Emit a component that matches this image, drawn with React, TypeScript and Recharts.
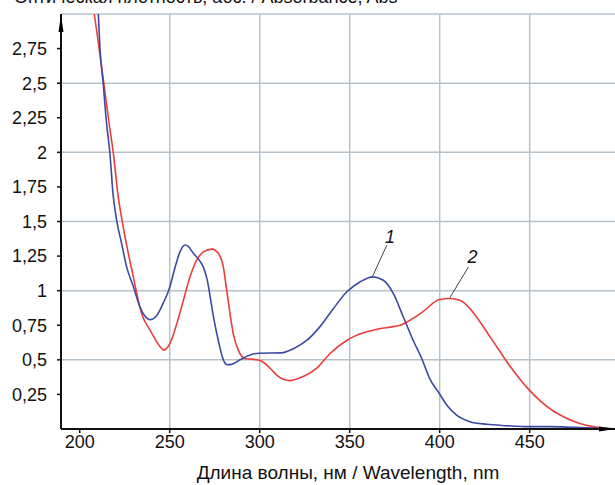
import React from 'react';
import {
  LineChart,
  Line,
  XAxis,
  YAxis,
  CartesianGrid,
  ReferenceLine,
  ReferenceDot,
} from 'recharts';

// curve 1 (blue)
const blueWl = [
  209.5, 210.3, 211.3, 213.1, 214.6, 216.8, 218.5, 220.5, 223.3, 226.1, 229.8,
  233.5, 236.3, 239.1, 242.8, 246.4, 249.8, 253, 255.7, 258.5, 260.3, 263.1,
  265.9, 268.7, 270.9, 272.8, 274.6, 277, 279.8, 282, 284.4, 289, 294.6, 300,
  312, 318.7, 326.1, 333.5, 340.9, 348.3, 355.7, 362.8, 368.7, 374.2, 379.8,
  385.3, 390, 394.6, 399.8, 403.9, 409.4, 416.8, 426.1, 437.2, 449.2, 461.3,
  474.3, 489, 497.4,
];
const blueAbs = [
  3.1, 3.0, 2.74, 2.49, 2.25, 1.99, 1.7, 1.51, 1.34, 1.17, 1.03,
  0.88, 0.815, 0.79, 0.82, 0.91, 1.015, 1.17, 1.28, 1.33, 1.32, 1.27,
  1.23, 1.17, 1.075, 0.93, 0.79, 0.64, 0.5, 0.465, 0.467, 0.5, 0.535, 0.548,
  0.55, 0.58, 0.64, 0.74, 0.87, 0.99, 1.063, 1.1, 1.075, 0.98, 0.81,
  0.64, 0.51, 0.36, 0.257, 0.173, 0.1, 0.053, 0.034, 0.024, 0.017, 0.017,
  0.012, 0.005, 0,
];

// curve 2 (red)
const redWl = [
  207, 208.1, 210.9, 213.5, 215.9, 218.7, 221.4, 224.2, 227, 229.8, 231.7,
  234.4, 239.1, 242.8, 246.8, 250.2, 253.9, 257.6, 261.3, 265, 268.7, 273.3,
  277, 279.8, 281.7, 283.5, 285.3, 288.1, 291.8, 298.3, 301.1, 305.7, 310.3,
  316.8, 324.2, 331.7, 339.1, 348.3, 357.6, 365, 374.2, 378, 383.5, 390.9,
  399.8, 405.7, 411.3, 416.8, 422.4, 428, 433.5, 439, 444.6, 449.2, 455.7,
  463.1, 470.5, 477.9, 485.3, 492.7, 497.4,
];
const redAbs = [
  3.1, 3.0, 2.74, 2.49, 2.25, 1.99, 1.68, 1.46, 1.27, 1.1, 0.98,
  0.835, 0.714, 0.63, 0.57, 0.62, 0.76, 0.93, 1.1, 1.22, 1.28, 1.3,
  1.27, 1.17, 1.0, 0.835, 0.69, 0.57, 0.51, 0.5, 0.49, 0.44, 0.38,
  0.35, 0.38, 0.44, 0.546, 0.64, 0.695, 0.72, 0.74, 0.75, 0.786, 0.85,
  0.936, 0.943, 0.93, 0.87, 0.774, 0.666, 0.56, 0.455, 0.36, 0.29, 0.205,
  0.13, 0.078, 0.04, 0.017, 0.005, 0,
];

const xTicks = [200, 250, 300, 350, 400, 450];
const yTicks = [0.25, 0.5, 0.75, 1, 1.25, 1.5, 1.75, 2, 2.25, 2.5, 2.75];
const xGrid = [250, 300, 350, 400, 450];
const yGrid = [0.5, 1, 1.5, 2, 2.5, 3];

const X_MIN = 189.6;
const X_MAX = 497.4;

const FONT = "'Liberation Sans', Arial, sans-serif";
const BLUE = '#3c4aa2';
const RED = '#ec3d3d';

const blueData = blueWl.map((x, i) => ({ x, y: blueAbs[i] }));
const redData = redWl.map((x, i) => ({ x, y: redAbs[i] }));

const fmt = (v: number) => String(v).replace('.', ',');

const CurveLabel = ({ cx, cy, text }: any) => (
  <text
    x={cx}
    y={cy}
    textAnchor="middle"
    dominantBaseline="central"
    fontFamily={FONT}
    fontSize={18}
    fontStyle="italic"
    fill="#111"
  >
    {text}
  </text>
);

export default function App() {
  return (
    <div
      style={{
        position: 'absolute',
        top: 0,
        left: 0,
        width: 615,
        height: 485,
        overflow: 'hidden',
        background: '#fff',
        fontFamily: FONT,
      }}
    >
      <div
        style={{
          position: 'absolute',
          top: -12,
          left: 14,
          fontSize: 18,
          lineHeight: '18px',
          color: '#111',
          whiteSpace: 'nowrap',
        }}
      >
        Оптическая плотность, абс. / Absorbance, Abs
      </div>
      <LineChart
        width={615}
        height={485}
        margin={{ top: 14, right: 0, bottom: 0, left: 0 }}
      >
        <CartesianGrid
          horizontalValues={yGrid}
          verticalValues={xGrid}
          stroke="#b8c2cb"
          strokeWidth={1.5}
        />
        <XAxis
          type="number"
          dataKey="x"
          domain={[X_MIN, X_MAX]}
          allowDataOverflow
          ticks={xTicks}
          height={56}
          tickSize={4}
          tickMargin={2}
          axisLine={{ stroke: '#111', strokeWidth: 2 }}
          tickLine={{ stroke: '#111', strokeWidth: 1.5 }}
          tick={{ fill: '#111', fontSize: 18, fontFamily: FONT }}
          label={{
            value: 'Длина волны, нм / Wavelength, nm',
            position: 'insideBottom',
            offset: 6,
            dx: 10,
            fill: '#111',
            fontSize: 19,
            fontFamily: FONT,
          }}
        />
        <YAxis
          type="number"
          dataKey="y"
          domain={[0, 3]}
          allowDataOverflow
          ticks={yTicks}
          width={61}
          tickSize={4}
          tickMargin={10}
          tickFormatter={fmt}
          axisLine={{ stroke: '#111', strokeWidth: 2 }}
          tickLine={{ stroke: '#111', strokeWidth: 1.5 }}
          tick={{ fill: '#111', fontSize: 18, fontFamily: FONT }}
        />
        <Line
          data={redData}
          dataKey="y"
          type="monotone"
          stroke={RED}
          strokeWidth={1.6}
          dot={false}
          isAnimationActive={false}
        />
        <Line
          data={blueData}
          dataKey="y"
          type="monotone"
          stroke={BLUE}
          strokeWidth={1.6}
          dot={false}
          isAnimationActive={false}
        />
        <ReferenceLine
          segment={[{ x: 362.7, y: 1.104 }, { x: 370.6, y: 1.328 }]}
          stroke="#444"
          strokeWidth={1}
        />
        <ReferenceLine
          segment={[{ x: 405.7, y: 0.95 }, { x: 415.9, y: 1.17 }]}
          stroke="#444"
          strokeWidth={1}
        />
        <ReferenceDot
          x={372.4}
          y={1.39}
          r={0}
          shape={(p: any) => <CurveLabel {...p} text="1" />}
        />
        <ReferenceDot
          x={418.3}
          y={1.245}
          r={0}
          shape={(p: any) => <CurveLabel {...p} text="2" />}
        />
        <ReferenceDot
          x={X_MIN}
          y={3}
          r={0}
          ifOverflow="visible"
          shape={(p: any) => (
            <path
              d={`M${p.cx},${p.cy + 1} L${p.cx - 2.5},${p.cy + 18} L${p.cx + 2.5},${p.cy + 18} Z`}
              fill="#000"
            />
          )}
        />
        <ReferenceDot
          x={X_MAX}
          y={0}
          r={0}
          ifOverflow="visible"
          shape={(p: any) => (
            <path
              d={`M${p.cx},${p.cy} L${p.cx - 16},${p.cy - 2.5} L${p.cx - 16},${p.cy + 2.5} Z`}
              fill="#000"
            />
          )}
        />
      </LineChart>
    </div>
  );
}
